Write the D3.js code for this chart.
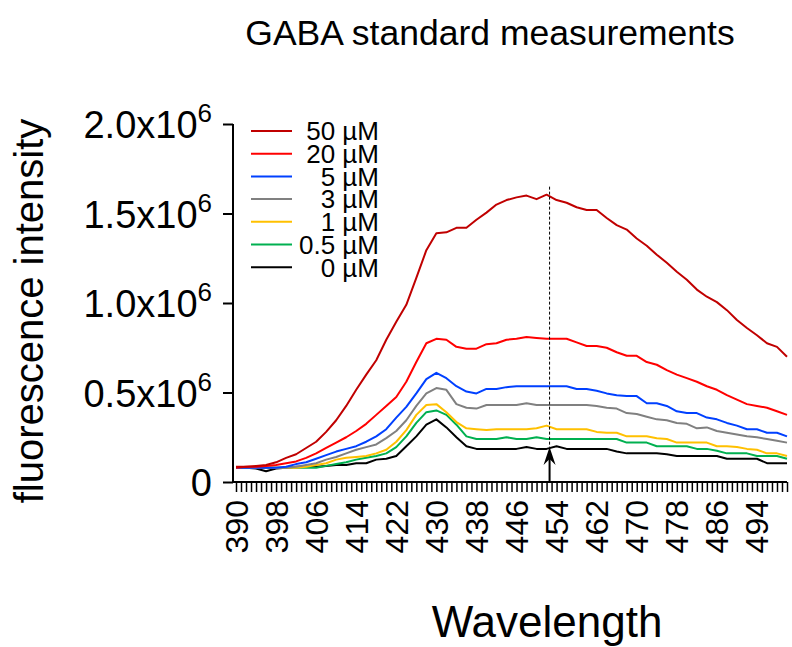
<!DOCTYPE html>
<html>
<head>
<meta charset="utf-8">
<script src="https://cdn.jsdelivr.net/npm/d3@7"></script>
<style>
  html, body { margin: 0; padding: 0; background: #fff; }
  svg { display: block; font-family: "Liberation Sans", Arial, sans-serif; }
</style>
</head>
<body>
<svg id="chart" width="792" height="647"></svg>
<script>
// ---------- data ----------
const wavelengths = [390,392,394,396,398,400,402,404,406,408,410,412,414,416,418,420,422,424,426,428,
  430,432,434,436,438,440,442,444,446,448,450,452,454,456,458,460,462,464,466,468,
  470,472,474,476,478,480,482,484,486,488,490,492,494,496,498,500];

const seriesNames = ["50 µM", "20 µM", "5 µM", "3 µM", "1 µM", "0.5 µM", "0 µM"];
const seriesColors = ["#c00000", "#ff0000", "#0040ff", "#808080", "#ffc000", "#00b050", "#000000"];

// fluorescence intensity in thousands
const s50 = [85,85,90,95,110,135,155,190,225,280,
  345,425,515,600,680,795,895,990,1140,1295,
  1390,1395,1420,1420,1465,1505,1550,1575,1590,1600,
  1580,1605,1575,1560,1535,1520,1520,1475,1435,1410,
  1360,1320,1270,1225,1175,1130,1075,1035,1005,960,
  905,860,820,775,755,700];
const s20 = [80,85,85,90,95,105,115,135,160,190,
  220,250,285,325,375,425,475,560,670,775,
  800,795,755,745,745,770,775,795,800,810,
  805,800,800,800,780,760,760,750,725,705,
  705,670,655,625,600,580,560,535,515,485,
  460,435,425,415,395,375];
const s5 = [80,80,80,80,80,85,100,110,130,150,
  170,185,200,225,255,295,360,420,495,575,
  610,580,535,505,495,520,520,530,535,535,
  535,535,535,535,520,520,510,495,485,480,
  480,440,440,425,395,385,385,360,350,330,
  315,295,295,275,275,255];
const s3 = [80,80,80,80,80,80,85,95,105,125,
  140,160,180,195,210,245,285,345,425,495,
  525,515,435,415,410,430,430,430,430,440,
  430,430,430,430,430,430,425,415,410,385,
  380,365,350,345,330,325,300,305,285,275,
  265,255,250,240,230,220];
const s1 = [80,80,80,80,80,80,80,85,95,105,
  125,135,140,145,160,180,225,290,375,430,
  435,390,335,300,295,290,295,295,295,295,
  300,315,295,295,295,295,280,275,275,255,
  255,255,245,240,220,220,220,220,200,200,
  195,185,180,160,160,145];
const s05 = [80,80,80,80,80,80,80,80,80,90,
  100,110,125,135,145,160,195,255,330,390,
  400,375,320,255,240,240,240,250,240,240,
  250,240,240,240,240,240,240,240,240,220,
  220,220,200,200,200,200,185,185,175,160,
  160,160,145,145,145,130];
const s0 = [80,80,75,60,75,80,85,85,85,90,
  95,95,105,105,125,130,145,200,255,320,
  350,305,250,200,185,185,185,185,185,195,
  185,185,200,185,185,185,185,185,170,160,
  160,160,160,155,145,145,145,145,145,130,
  130,130,130,105,105,105];
const seriesValues = [s50, s20, s5, s3, s1, s05, s0];

const yTickValues = [0, 500000, 1000000, 1500000, 2000000];
const yTickLabels = ["0", "0.5", "1.0", "1.5", "2.0"];
const xTickLabels = [390,398,406,414,422,430,438,446,454,462,470,478,486,494];
const markerWavelength = 452.6;
const markerTopValue = 1650000;
const arrowTipValue = 195000;

// ---------- drawing ----------
const svg = d3.select("#chart");
const x = d3.scaleLinear().domain([390, 500]).range([236, 787]);
const y = d3.scaleLinear().domain([0, 2000000]).range([482, 124]);

// title
svg.append("text").attr("x", 490).attr("y", 45).attr("text-anchor", "middle")
  .attr("font-size", 35.5).text("GABA standard measurements");

// y label
svg.append("text").attr("transform", "translate(43,311) rotate(-90)")
  .attr("text-anchor", "middle").attr("font-size", 40).text("fluorescence intensity");

// x label
svg.append("text").attr("x", 547).attr("y", 637).attr("text-anchor", "middle")
  .attr("font-size", 44).text("Wavelength");

// y axis
const yAxis = d3.axisLeft(y).tickValues(yTickValues).tickSize(10).tickFormat("");
const gy = svg.append("g").attr("transform", "translate(233,0)").call(yAxis);
gy.select(".domain").attr("stroke", "#000").attr("stroke-width", 2).attr("d", `M0,${y(2000000)}V${y(0)}`);
gy.selectAll(".tick line").attr("stroke", "#000").attr("stroke-width", 2);

const yl = svg.append("g");
yTickValues.forEach((v, i) => {
  const t = yl.append("text").attr("x", 212).attr("y", y(v) + 14)
    .attr("text-anchor", "end").attr("font-size", 38);
  if (v === 0) {
    t.text(yTickLabels[i]);
  } else {
    t.append("tspan").text(yTickLabels[i] + "x10");
    t.append("tspan").attr("font-size", 26).attr("dy", -16).text("6");
  }
});

// x axis
const xAxis = d3.axisBottom(x).tickValues(d3.range(390, 501)).tickSize(10).tickFormat("");
const gx = svg.append("g").attr("transform", `translate(0,${y(0)})`).call(xAxis);
gx.select(".domain").attr("stroke", "#000").attr("stroke-width", 2).attr("d", `M233,0H${x(500)}`);
gx.selectAll(".tick line").attr("stroke", "#000").attr("stroke-width", 1.5);

svg.append("g").selectAll("text").data(xTickLabels).join("text")
  .attr("transform", d => `translate(${x(d)},500) rotate(-90)`)
  .attr("text-anchor", "end").attr("dy", "0.36em")
  .attr("font-size", 32).text(d => d);

// lines
const line = d3.line().x((d, i) => x(wavelengths[i])).y(d => y(d * 1000));
for (let k = seriesValues.length - 1; k >= 0; k--) {
  svg.append("path").datum(seriesValues[k])
    .attr("fill", "none").attr("stroke", seriesColors[k]).attr("stroke-width", 2)
    .attr("stroke-linejoin", "round").attr("d", line);
}

// marker: dashed line + arrow
const mx = x(markerWavelength);
const tipY = y(arrowTipValue);
svg.append("line").attr("x1", mx).attr("x2", mx).attr("y1", y(markerTopValue)).attr("y2", tipY)
  .attr("stroke", "#000").attr("stroke-width", 1).attr("stroke-dasharray", "3,2");
svg.append("line").attr("x1", mx).attr("x2", mx).attr("y1", y(0)).attr("y2", tipY + 10)
  .attr("stroke", "#000").attr("stroke-width", 2);
svg.append("path")
  .attr("d", `M${mx},${tipY}L${mx - 6},${tipY + 18}L${mx},${tipY + 12}L${mx + 6},${tipY + 18}Z`)
  .attr("fill", "#000");

// legend
const lg = svg.append("g");
seriesNames.forEach((name, i) => {
  const ly = 131 + i * 22.7;
  lg.append("line").attr("x1", 251).attr("x2", 292).attr("y1", ly).attr("y2", ly)
    .attr("stroke", seriesColors[i]).attr("stroke-width", 2);
  lg.append("text").attr("x", 379).attr("y", ly).attr("dy", "0.36em")
    .attr("text-anchor", "end").attr("font-size", 26).text(name);
});
</script>
</body>
</html>
